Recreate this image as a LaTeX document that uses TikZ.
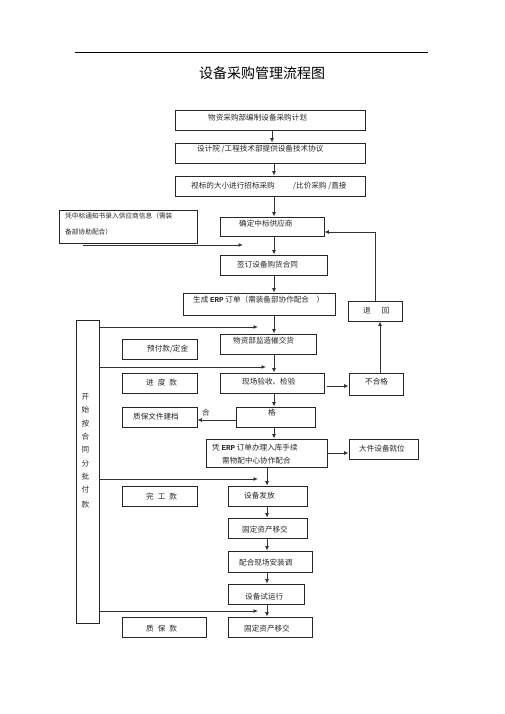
\documentclass[tikz,border=0pt]{standalone}
\usepackage{fontspec}
\setmainfont{Noto Sans CJK SC}
\newfontfamily\monob{Liberation Mono}
\usetikzlibrary{arrows.meta}
\tikzset{
  box/.style={draw=black!85, line width=0.8pt, inner sep=0pt, rectangle},
  txt/.style={inner sep=0pt, anchor=west, font=\fontsize{7.6pt}{9pt}\selectfont, text=black!85},
  small/.style={inner sep=0pt, anchor=west, font=\fontsize{6.7pt}{8pt}\selectfont, text=black!85},
  arr/.style={-{Latex[length=4.5pt,width=4pt]}, line width=0.9pt, draw=black!80},
  ln/.style={line width=0.9pt, draw=black!80}
}
\newcommand{\erp}{{\monob\bfseries ERP}}
\begin{document}
\begin{tikzpicture}[x=1pt,y=-1pt]
\useasboundingbox (0,0) rectangle (505,714);
% header rule and title
\coordinate (h1) at (75,52);
\coordinate (h2) at (428,52);
\draw[line width=0.9pt] (h1) -- (h2);
\node[inner sep=0pt, font=\fontsize{14pt}{16pt}\selectfont] (title) at (262,73) {设备采购管理流程图};

% main boxes
\node[box, minimum width=190pt, minimum height=20pt] (b1) at (270,120) {};
\node[txt] (t1) at (208,118) {物资采购部编制设备采购计划};
\node[box, minimum width=190pt, minimum height=20pt] (b2) at (270,153) {};
\node[txt] (t2) at (197,149) {设计院 /工程技术部提供设备技术协议};
\node[box, minimum width=190pt, minimum height=20pt] (b3) at (270,186) {};
\node[txt] (t3a) at (191,186) {视标的大小进行招标采购};
\node[txt] (t3b) at (293,186) {/比价采购 /直接};
\node[box, minimum width=104pt, minimum height=19pt] (b4) at (272,226.5) {};
\node[txt] (t4) at (239,224) {确定中标供应商};
\node[box, minimum width=138pt, minimum height=33pt] (note) at (128,226.5) {};
\node[small] (tn1) at (65,216) {凭中标通知书录入供应商信息（需装};
\node[small] (tn2) at (65,232) {备部协助配合）};
\node[box, minimum width=107pt, minimum height=20pt] (b5) at (273.5,265) {};
\node[txt] (t5) at (237,265) {签订设备购货合同};
\node[box, minimum width=152pt, minimum height=22pt] (b6) at (259,304) {};
\node[txt] (t6) at (193,300) {生成 \erp{} 订单（需装备部协作配合\quad ）};
\node[box, minimum width=54pt, minimum height=20pt] (tb) at (375,311) {};
\node[txt] (ttb) at (363,311) {退\hspace{11pt}回};
\node[box, minimum width=96pt, minimum height=20pt] (b7) at (268,344) {};
\node[txt] (t7) at (233,341) {物资部监造催交货};
\node[box, minimum width=104pt, minimum height=20pt] (b8) at (272,383) {};
\node[txt] (t8) at (242,382) {现场验收、检验};
\node[box, minimum width=54pt, minimum height=22pt] (nq) at (376,384) {};
\node[txt] (tnq) at (365,382) {不合格};
\node[box, minimum width=79pt, minimum height=20pt] (b9) at (275.5,417) {};
\node[txt] (t9) at (268,413) {格};
\node[txt] (he) at (202,413) {合};
\node[box, minimum width=121pt, minimum height=28pt] (b10) at (266.5,453) {};
\node[txt] (t10a) at (212,448) {凭 \erp{} 订单办理入库手续};
\node[txt] (t10b) at (222,461) {需物配中心协作配合};
\node[box, minimum width=69pt, minimum height=20pt] (dj) at (383.5,449) {};
\node[txt] (tdj) at (359,449) {大件设备就位};
\node[box, minimum width=79pt, minimum height=20pt] (b11) at (267.5,496) {};
\node[txt] (t11) at (244,496) {设备发放};
\node[box, minimum width=79pt, minimum height=20pt] (b12) at (267.5,528) {};
\node[txt] (t12) at (242,530) {固定资产移交};
\node[box, minimum width=84pt, minimum height=21pt] (b13) at (270,561.5) {};
\node[txt] (t13) at (239,563) {配合现场安装调};
\node[box, minimum width=76pt, minimum height=20pt] (b14) at (266,594) {};
\node[txt] (t14) at (245,597) {设备试运行};
\node[box, minimum width=84pt, minimum height=20pt] (b15) at (270,627) {};
\node[txt] (t15) at (244,629) {固定资产移交};

% payment boxes
\node[box, minimum width=23pt, minimum height=303pt] (L) at (87.5,471.5) {};
\node[inner sep=0pt, align=center, font=\fontsize{7.6pt}{13.3pt}\selectfont, text=black!85] (tL) at (85.5,451)
  {开\\始\\按\\合\\同\\分\\批\\付\\[1.5pt]款};
\node[box, minimum width=75pt, minimum height=20pt] (p1) at (159.5,349) {};
\node[txt] (tp1) at (147,349) {预付款/定金};
\node[box, minimum width=75pt, minimum height=20pt] (p2) at (159.5,383) {};
\node[txt] (tp2) at (146,383) {进\hspace{4pt}度\hspace{4pt}款};
\node[box, minimum width=75pt, minimum height=20pt] (p3) at (159.5,417) {};
\node[txt] (tp3) at (133,417) {质保文件建档};
\node[box, minimum width=75pt, minimum height=20pt] (p4) at (159.5,496) {};
\node[txt] (tp4) at (146,497) {完\hspace{4pt}工\hspace{4pt}款};
\node[box, minimum width=84pt, minimum height=20pt] (p5) at (164,627) {};
\node[txt] (tp5) at (146,629) {质\hspace{4pt}保\hspace{4pt}款};

% helper coordinates
\coordinate (mx0) at (272,0);
\coordinate (mx) at (274,0);
\coordinate (mx2) at (267,0);
\coordinate (n1) at (83,245);
\coordinate (n2) at (243,245);
\coordinate (e1) at (258,327);
\coordinate (e2) at (266,367);
\coordinate (e3) at (258,479);
\coordinate (e4) at (258,611);
\coordinate (r1) at (375,232);
\coordinate (r2) at (380,0);
\coordinate (q1) at (327,386);
\coordinate (g1) at (0,420);
\coordinate (d1) at (0,453);

% main flow arrows
\draw[arr] (b1.south -| mx0) -- (b2.north -| mx0);
\draw[arr] (b2.south -| mx) -- (b3.north -| mx);
\draw[arr] (b3.south -| mx) -- (b4.north -| mx);
\draw[arr] (b4.south -| mx) -- (b5.north -| mx);
\draw[arr] (b5.south -| mx) -- (b6.north -| mx);
\draw[arr] (b6.south -| mx) -- (b7.north -| mx);
\draw[arr] (b7.south -| mx) -- (b8.north -| mx);
\draw[arr] (b8.south -| mx) -- (b9.north -| mx);
\draw[arr] (b9.south -| mx) -- (b10.north -| mx);
\draw[arr] (b10.south -| mx2) -- (b11.north -| mx2);
\draw[arr] (b11.south -| mx2) -- (b12.north -| mx2);
\draw[arr] (b12.south -| mx2) -- (b13.north -| mx2);
\draw[arr] (b13.south -| mx2) -- (b14.north -| mx2);
\draw[arr] (b14.south -| mx2) -- (b15.north -| mx2);

% side arrows
\draw[arr] (n1) -- (n2);
\draw[arr] (q1) -- (nq.west |- q1);
\draw[arr] (nq.north -| r2) -- (tb.south -| r2);
\draw[arr] (tb.north -| r1) -- (r1) -- (b4.east |- r1);
\draw[arr] (b9.west |- g1) -- (p3.east |- g1);
\draw[arr] (b10.east |- d1) -- (dj.west |- d1);

% payment arrows from left bar
\draw[arr] (L.east |- e1) -- (e1);
\draw[arr] (L.east |- e2) -- (e2);
\draw[arr] (L.east |- e3) -- (e3);
\draw[arr] (L.east |- e4) -- (e4);
\end{tikzpicture}
\end{document}
